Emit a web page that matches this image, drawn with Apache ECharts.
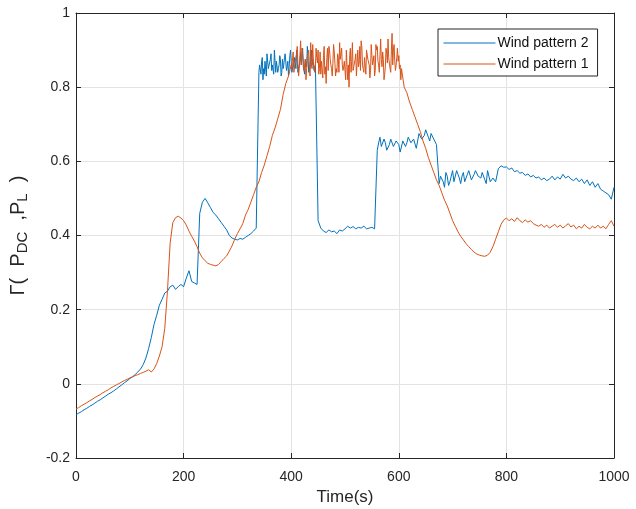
<!DOCTYPE html>
<html>
<head>
<meta charset="utf-8">
<script src="https://cdn.jsdelivr.net/npm/echarts@6/dist/echarts.min.js"></script>
<style>
html,body{margin:0;padding:0;background:#fff;}
#chart{width:636px;height:509px;}
</style>
</head>
<body>
<div id="chart"></div>
<script>
// ---- data ----
const timeStart = 0;
const timeStep = 5;            // main samples every 5 s
const seriesNames = ['Wind pattern 2', 'Wind pattern 1'];
const xTicks = [0, 200, 400, 600, 800, 1000];
const yTicks = [-0.2, 0, 0.2, 0.4, 0.6, 0.8, 1];

const windPattern2 = [
 -0.083,-0.079,-0.075,-0.070,-0.066,-0.061,-0.057,-0.052,-0.047,-0.043,
 -0.038,-0.033,-0.028,-0.024,-0.019,-0.014,-0.008,-0.003,0.003,0.008,
 0.014,0.019,0.025,0.032,0.040,0.052,0.070,0.095,0.125,0.160,
 0.185,0.212,0.228,0.245,0.250,0.262,0.266,0.255,0.262,0.268,
 0.262,0.285,0.305,0.276,0.272,0.268,0.460,0.490,0.500,0.488,
 0.475,0.462,0.455,0.445,0.435,0.425,0.415,0.400,0.393,0.390,
 0.388,0.392,0.390,0.395,0.400,0.405,0.412,0.420,0.840,0.870,
 0.835,0.890,0.845,0.860,0.905,0.840,0.875,0.850,0.895,0.830,
 0.870,0.855,0.900,0.845,0.880,0.835,0.910,0.850,0.875,0.860,
 0.440,0.420,0.412,0.408,0.415,0.410,0.412,0.405,0.415,0.412,
 0.418,0.425,0.420,0.424,0.418,0.422,0.420,0.425,0.418,0.420,
 0.422,0.418,0.630,0.665,0.635,0.650,0.625,0.660,0.640,0.655,
 0.645,0.620,0.660,0.650,0.668,0.645,0.660,0.640,0.670,0.655,
 0.685,0.665,0.675,0.660,0.645,0.540,0.565,0.530,0.560,0.545,
 0.575,0.550,0.565,0.540,0.570,0.555,0.575,0.550,0.565,0.580,
 0.560,0.570,0.550,0.575,0.545,0.555,0.545,0.580,0.588,0.584,
 0.585,0.578,0.582,0.572,0.575,0.568,0.570,0.562,0.566,0.558,
 0.562,0.555,0.558,0.550,0.555,0.548,0.552,0.560,0.550,0.558,
 0.552,0.565,0.555,0.560,0.552,0.548,0.555,0.545,0.552,0.540,
 0.550,0.535,0.545,0.530,0.540,0.525,0.520,0.515,0.510,0.498,
 0.530
];
// extra samples in the noisy stretches of Wind pattern 2
const windPattern2Extra1Start = 342.5;   // 342.5 … 442.5 s, every 5 s
const windPattern2Extra1 = [
 0.855,0.820,0.875,0.850,0.890,0.835,0.870,0.860,0.840,0.880,
 0.855,0.885,0.845,0.875,0.840,0.895,0.855,0.880,0.840,0.900,
 0.845
];
const windPattern2Extra2Start = 562.5;   // 562.5 … 667.5 s, every 5 s
const windPattern2Extra2 = [
 0.650,0.640,0.660,0.630,0.645,0.665,0.635,0.660,0.625,0.655,
 0.640,0.665,0.650,0.660,0.635,0.675,0.660,0.670,0.680,0.655,
 0.670,0.660
];
const windPattern2Extra3Start = 677.5;   // 677.5 … 782.5 s, every 5 s
const windPattern2Extra3 = [
 0.560,0.545,0.570,0.535,0.560,0.545,0.575,0.555,0.560,0.545,
 0.565,0.570,0.545,0.575,0.560,0.555,0.565,0.540,0.560,0.550,
 0.560,0.550
];
const windPattern2Extra4Start = 341.25;  // 341.25 … 443.75 s, every 2.5 s
const windPattern2Extra4 = [
 0.860,0.835,0.880,0.850,0.870,0.830,0.895,0.855,0.875,0.845,
 0.865,0.900,0.840,0.870,0.850,0.885,0.830,0.875,0.860,0.890,
 0.845,0.870,0.855,0.900,0.840,0.865,0.880,0.850,0.895,0.835,
 0.870,0.860,0.905,0.845,0.875,0.855,0.885,0.840,0.870,0.860,
 0.880,0.850
];

const windPattern1 = [
 -0.068,-0.064,-0.059,-0.055,-0.051,-0.046,-0.042,-0.037,-0.033,-0.029,
 -0.024,-0.020,-0.016,-0.011,-0.007,-0.003,0.001,0.005,0.009,0.012,
 0.016,0.019,0.022,0.025,0.028,0.031,0.034,0.038,0.032,0.040,
 0.055,0.075,0.100,0.150,0.250,0.380,0.435,0.448,0.452,0.447,
 0.440,0.428,0.412,0.398,0.385,0.370,0.352,0.340,0.332,0.325,
 0.322,0.320,0.318,0.322,0.330,0.338,0.345,0.358,0.372,0.390,
 0.405,0.418,0.432,0.455,0.470,0.490,0.510,0.530,0.545,0.570,
 0.590,0.615,0.640,0.670,0.690,0.715,0.740,0.780,0.810,0.830,
 0.860,0.840,0.890,0.850,0.905,0.845,0.880,0.830,0.915,0.855,
 0.900,0.835,0.885,0.810,0.910,0.850,0.895,0.840,0.920,0.860,
 0.875,0.820,0.905,0.845,0.890,0.855,0.925,0.840,0.900,0.860,
 0.885,0.830,0.910,0.845,0.895,0.855,0.930,0.840,0.900,0.860,
 0.885,0.850,0.800,0.785,0.760,0.740,0.720,0.700,0.680,0.655,
 0.635,0.610,0.590,0.570,0.550,0.535,0.515,0.495,0.480,0.460,
 0.440,0.425,0.410,0.398,0.388,0.378,0.370,0.362,0.355,0.350,
 0.347,0.345,0.344,0.347,0.355,0.370,0.390,0.410,0.430,0.442,
 0.447,0.440,0.445,0.438,0.448,0.440,0.435,0.442,0.436,0.440,
 0.432,0.428,0.425,0.430,0.422,0.428,0.420,0.425,0.430,0.422,
 0.428,0.420,0.426,0.432,0.423,0.428,0.418,0.425,0.420,0.430,
 0.422,0.418,0.425,0.420,0.428,0.420,0.425,0.418,0.430,0.440,
 0.425
];
// extra samples in the noisy plateau of Wind pattern 1
const windPattern1Extra1Start = 402.5;   // 402.5 … 602.5 s, every 5 s
const windPattern1Extra1 = [
 0.880,0.870,0.860,0.925,0.870,0.820,0.900,0.860,0.870,0.880,
 0.850,0.865,0.835,0.905,0.875,0.865,0.830,0.880,0.870,0.855,
 0.900,0.800,0.870,0.865,0.835,0.910,0.860,0.880,0.875,0.845,
 0.870,0.915,0.860,0.875,0.820,0.890,0.865,0.945,0.870,0.905,
 0.860
];
const windPattern1Extra2Start = 401.25;  // 401.25 … 603.75 s, every 2.5 s
const windPattern1Extra2 = [
 0.850,0.895,0.840,0.870,0.910,0.830,0.885,0.860,0.900,0.845,
 0.875,0.815,0.890,0.860,0.920,0.850,0.870,0.840,0.905,0.865,
 0.835,0.895,0.870,0.825,0.910,0.855,0.880,0.845,0.900,0.860,
 0.830,0.915,0.865,0.850,0.890,0.840,0.875,0.905,0.845,0.870,
 0.820,0.900,0.860,0.885,0.840,0.920,0.855,0.875,0.830,0.900,
 0.865,0.845,0.910,0.850,0.880,0.835,0.895,0.870,0.825,0.915,
 0.860,0.885,0.845,0.900,0.870,0.840,0.930,0.855,0.875,0.835,
 0.905,0.865,0.880,0.850,0.900,0.860,0.915,0.845,0.880,0.870,
 0.850,0.820
];

// ---- build ----
function pairs(values, start, step) {
  return values.map((v, i) => [start + i * step, v]);
}
function merged(main, extras) {
  let all = pairs(main, timeStart, timeStep);
  extras.forEach(e => { all = all.concat(pairs(e[1], e[0], e[2])); });
  return all.sort((a, b) => a[0] - b[0]);
}
const data2 = merged(windPattern2, [
  [windPattern2Extra1Start, windPattern2Extra1, 5],
  [windPattern2Extra2Start, windPattern2Extra2, 5],
  [windPattern2Extra3Start, windPattern2Extra3, 5],
  [windPattern2Extra4Start, windPattern2Extra4, 2.5]
]);
const data1 = merged(windPattern1, [
  [windPattern1Extra1Start, windPattern1Extra1, 5],
  [windPattern1Extra2Start, windPattern1Extra2, 2.5]
]);

const FONT = '"Liberation Sans", Arial, sans-serif';
const AX = '#262626';
const GRID = '#e3e3e3';

const chart = echarts.init(document.getElementById('chart'), null, {renderer: 'canvas'});

const xBase = {
  type: 'value', min: xTicks[0], max: xTicks[xTicks.length - 1],
  interval: xTicks[1] - xTicks[0]
};
const yBase = {
  type: 'value', min: yTicks[0], max: yTicks[yTicks.length - 1],
  interval: 0.2
};

chart.setOption({
  animation: false,
  backgroundColor: '#fff',
  grid: {left: 76, right: 22, top: 13, bottom: 51, containLabel: false, outerBoundsMode: 'none'},
  legend: {
    orient: 'vertical',
    left: 438, top: 29,
    padding: [7, 9, 5, 5],
    itemWidth: 52, itemHeight: 14, itemGap: 7,
    borderColor: AX, borderWidth: 1, backgroundColor: '#fff',
    itemStyle: {opacity: 0},
    lineStyle: {width: 1},
    textStyle: {fontFamily: FONT, fontSize: 14, color: '#111', padding: [0, 0, 0, -3]},
    data: seriesNames
  },
  xAxis: [
    Object.assign({}, xBase, {
      position: 'bottom',
      axisLine: {show: true, onZero: false, lineStyle: {color: AX, width: 1}},
      axisTick: {show: true, inside: true, length: 5, lineStyle: {color: AX}},
      axisLabel: {margin: 12, color: AX, fontSize: 14, fontFamily: FONT,
                  formatter: v => String(v)},
      splitLine: {show: true, lineStyle: {color: GRID, width: 1}},
      name: 'Time(s)', nameLocation: 'middle', nameGap: 29,
      nameTextStyle: {fontFamily: FONT, fontSize: 17, color: AX}
    }),
    Object.assign({}, xBase, {
      position: 'top',
      axisLine: {show: true, onZero: false, lineStyle: {color: AX, width: 1}},
      axisTick: {show: true, inside: true, length: 5, lineStyle: {color: AX}},
      axisLabel: {show: false},
      splitLine: {show: false}
    })
  ],
  yAxis: [
    Object.assign({}, yBase, {
      position: 'left',
      axisLine: {show: true, onZero: false, lineStyle: {color: AX, width: 1}},
      axisTick: {show: true, inside: true, length: 5, lineStyle: {color: AX}},
      axisLabel: {margin: 6, color: AX, fontSize: 14, fontFamily: FONT},
      splitLine: {show: true, lineStyle: {color: GRID, width: 1}},
      name: '{n|Γ(  P}{s|DC}{n|  ,P}{s|L}{n|  )}',
      nameLocation: 'middle', nameGap: 46, nameRotate: 90,
      nameTextStyle: {
        color: AX,
        rich: {
          n: {fontFamily: FONT, fontSize: 20, color: AX, lineHeight: 24, verticalAlign: 'middle'},
          s: {fontFamily: FONT, fontSize: 15, color: AX, lineHeight: 15, verticalAlign: 'bottom'}
        }
      }
    }),
    Object.assign({}, yBase, {
      position: 'right',
      axisLine: {show: true, onZero: false, lineStyle: {color: AX, width: 1}},
      axisTick: {show: true, inside: true, length: 5, lineStyle: {color: AX}},
      axisLabel: {show: false},
      splitLine: {show: false}
    })
  ],
  series: [
    {
      name: seriesNames[0], type: 'line', xAxisIndex: 0, yAxisIndex: 0,
      data: data2, symbol: 'none', showSymbol: false,
      color: '#0072BD', lineStyle: {color: '#0072BD', width: 1}
    },
    {
      name: seriesNames[1], type: 'line', xAxisIndex: 0, yAxisIndex: 0,
      data: data1, symbol: 'none', showSymbol: false,
      color: '#D95319', lineStyle: {color: '#D95319', width: 1}
    }
  ]
});
</script>
</body>
</html>
